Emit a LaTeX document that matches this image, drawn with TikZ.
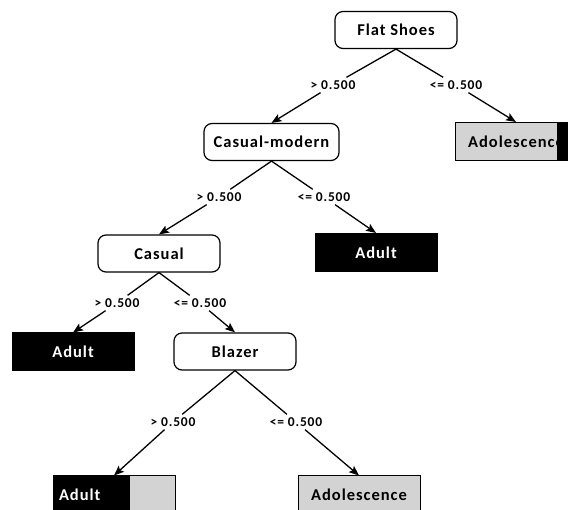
\documentclass[tikz,border=0pt]{standalone}
\usepackage{fontspec}
\setmainfont{Carlito}
\newfontfamily\nodefam{Carlito}[LetterSpace=6]
\usetikzlibrary{arrows.meta}
\definecolor{leafgray}{RGB}{211,211,211}
\begin{document}
\begin{tikzpicture}[x=1pt,y=-1pt,
  nodefont/.style={font=\nodefam\bfseries\fontsize{16.5}{18}\selectfont},
  inner/.style={draw, rounded corners=8pt, line width=1.2pt, minimum width=122pt, minimum height=37pt, nodefont},
  leaf/.style={draw, line width=1pt, minimum width=122pt, minimum height=38pt, nodefont, fill=leafgray},
  blackleaf/.style={leaf, fill=black, text=white},
  blackright/.style={path picture={\fill[black] ([xshift=-#1]path picture bounding box.north east) rectangle (path picture bounding box.south east);}},
  blackleft/.style={path picture={\fill[black] (path picture bounding box.north west) rectangle ([xshift=#1]path picture bounding box.south west);}},
  lab/.style={font=\nodefam\bfseries\fontsize{13.5}{15}\selectfont, inner sep=3pt},
  edge/.style={line width=1.3pt},
  arr/.style={-{Stealth[length=10pt,width=8pt,inset=2pt]}}
]
\useasboundingbox (0,0) rectangle (568,510);
\clip (0,0) rectangle (568,510);
% internal nodes
\node[inner] (fs) at (396,30) {Flat Shoes};
\node[inner, minimum width=135pt] (cm) at (271.5,142) {Casual-modern};
\node[inner] (ca) at (159,253.5) {Casual};
\node[inner] (bl) at (235,351.5) {Blazer};
% leaves
\node[leaf, blackright=20pt] (ad1) at (516,141.5) {Adolescence};
\node[blackleaf] (au1) at (376,252.5) {Adult};
\node[blackleaf] (au2) at (73,352) {Adult};
\node[leaf, blackleft=77pt, text=white, text width=110pt, inner xsep=6pt, align=left] (au3) at (114,495) {Adult};
\node[leaf] (ad2) at (359,495) {Adolescence};
% labels
\node[lab] (l1) at (333,85) {> 0.500};
\node[lab] (l2) at (456,85) {<= 0.500};
\node[lab] (l3) at (219,197) {> 0.500};
\node[lab] (l4) at (324,197) {<= 0.500};
\node[lab] (l5) at (117,303) {> 0.500};
\node[lab] (l6) at (200,303) {<= 0.500};
\node[lab] (l7) at (173,422) {> 0.500};
\node[lab] (l8) at (296,422) {<= 0.500};
% edges
\draw[edge] (fs.south) -- (l1);
\draw[edge,arr] (l1) -- (cm.north);
\draw[edge] (fs.south) -- (l2);
\draw[edge,arr] (l2) -- (ad1.north);
\draw[edge] (cm.south) -- (l3);
\draw[edge,arr] (l3) -- (ca.north);
\draw[edge] (cm.south) -- (l4);
\draw[edge,arr] (l4) -- (au1.north);
\draw[edge] (ca.south) -- (l5);
\draw[edge,arr] (l5) -- (au2.north);
\draw[edge] (ca.south) -- (l6);
\draw[edge,arr] (l6) -- (bl.north);
\draw[edge] (bl.south) -- (l7);
\draw[edge,arr] (l7) -- (au3.north);
\draw[edge] (bl.south) -- (l8);
\draw[edge,arr] (l8) -- (ad2.north);
\end{tikzpicture}
\end{document}
